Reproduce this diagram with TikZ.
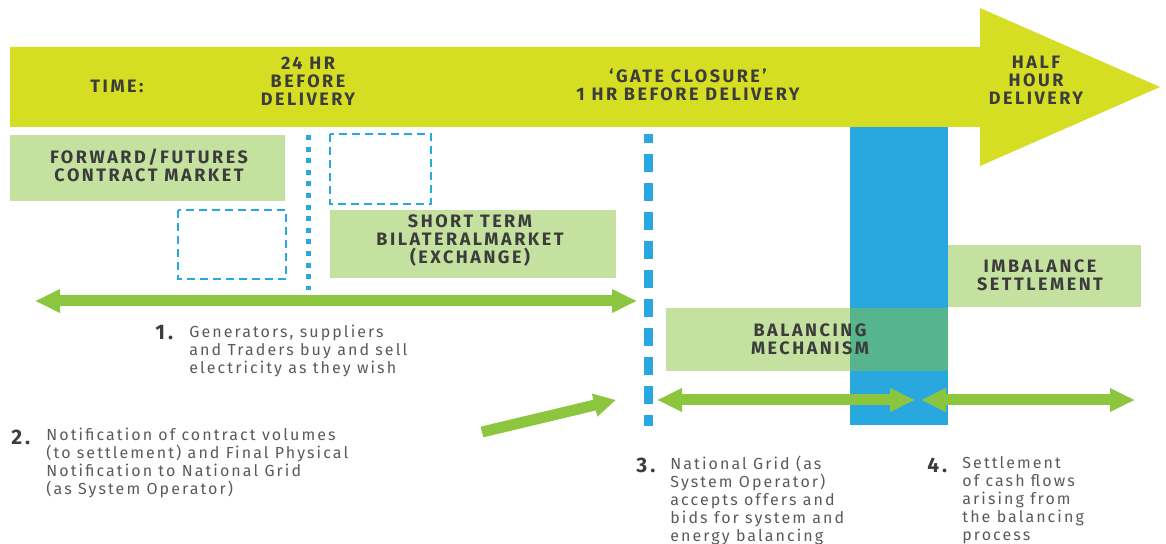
\documentclass[tikz,border=0pt]{standalone}
\usepackage{fontspec}
\setmainfont{Fira Sans}
\newfontfamily\capsfont[LetterSpace=14]{Fira Sans}
\newfontfamily\bodyfont[LetterSpace=13]{Fira Sans}
\usetikzlibrary{arrows.meta}
\definecolor{timeyellow}{RGB}{213,222,34}
\definecolor{boxgreen}{RGB}{197,225,160}
\definecolor{spangreen}{RGB}{140,198,63}
\definecolor{barblue}{RGB}{41,168,224}
\definecolor{mixteal}{RGB}{87,181,141}
\definecolor{textdark}{RGB}{60,60,60}
\definecolor{textgray}{RGB}{90,90,90}
\tikzset{
	caps/.style={font=\capsfont\bfseries\fontsize{9}{9}\selectfont, text=textdark, align=center, inner sep=0pt},
	body/.style={font=\bodyfont\fontsize{8}{9}\selectfont, text=textgray, align=left, anchor=west, inner sep=0pt},
	num/.style={font=\capsfont\bfseries\fontsize{10.5}{10}\selectfont, text=textdark, anchor=west, inner sep=0pt},
	span/.style={line width=5.5pt, draw=spangreen, {Triangle[width=11pt,length=12.5pt]}-{Triangle[width=11pt,length=12.5pt]}},
	push/.style={line width=5.5pt, draw=spangreen, -{Triangle[width=11pt,length=11pt]}},
	dashbox/.style={draw=barblue, line width=1.3pt, dash pattern=on 4pt off 2.5pt}
}
\begin{document}
\begin{tikzpicture}[x=0.5pt,y=-0.5pt]
		%%%%% START %%%%%
		\useasboundingbox (0,0) rectangle (1166,544);
		
		\fill[timeyellow] (10,47) -- (980,47) -- (980,8) -- (1160,87) -- (980,166) -- (980,127) -- (10,127) -- cycle;
		\node[caps] (time) at (117,86) {TIME:};
		\node[caps] (dayahead) at (308,81) {24 HR\\BEFORE\\DELIVERY};
		\node[caps] (gate) at (688,85) {‘GATE CLOSURE’\\1 HR BEFORE DELIVERY};
		\node[caps] (halfhour) at (1036,80) {HALF\\HOUR\\DELIVERY};
		
		\fill[boxgreen] (10,135) rectangle (285,201);
		\node[caps] (fwd) at (149,165) {FORWARD/FUTURES\\CONTRACT MARKET};
		
		\draw[dashbox] (178,210) rectangle (286,279);
		\draw[dashbox] (330,134) rectangle (431,204);
		\draw[barblue, line width=2.5pt, dash pattern=on 2.5pt off 3.3pt] (308,135) -- (308,290);
		
		\fill[boxgreen] (330,210) rectangle (616,278);
		\node[caps] (shortterm) at (470,241) {SHORT TERM\\BILATERALMARKET\\(EXCHANGE)};
		
		\draw[barblue, line width=4.5pt, dash pattern=on 9pt off 5.5pt, dash phase=4.5pt] (648,134) -- (648,426);
		
		\fill[barblue] (850,127) rectangle (948,425);
		\fill[boxgreen] (948,245) rectangle (1141,307);
		\node[caps] (imbal) at (1040,275) {IMBALANCE\\SETTLEMENT};
		\fill[boxgreen] (666,308) rectangle (850,371);
		\fill[mixteal] (850,308) rectangle (948,371);
		\node[caps] (balmech) at (810,339) {BALANCING\\MECHANISM};
		
		\coordinate (s1a) at (35,301);
		\coordinate (s1b) at (637,301);
		\coordinate (s2a) at (657,400);
		\coordinate (s2b) at (915,400);
		\coordinate (s3a) at (921,400);
		\coordinate (s3b) at (1135,400);
		\coordinate (fpna) at (482,432);
		\coordinate (fpnb) at (616,400);
		\draw[span] (s1a) -- (s1b);
		\draw[span] (s2a) -- (s2b);
		\draw[span] (s3a) -- (s3b);
		\draw[push] (fpna) -- (fpnb);
		
		\node[num] (num1) at (155,333) {1.};
		\node[body] (note1) at (189,351) {Generators, suppliers\\and Traders buy and sell\\electricity as they wish};
		\node[num] (num2) at (11,437) {2.};
		\node[body] (note2) at (46,463) {Notification of contract volumes\\(to settlement) and Final Physical\\Notification to National Grid\\(as System Operator)};
		\node[num] (num3) at (636,465) {3.};
		\node[body] (note3) at (670,500) {National Grid (as\\System Operator)\\accepts offers and\\bids for system and\\energy balancing};
		\node[num] (num4) at (927,465) {4.};
		\node[body] (note4) at (962,500) {Settlement\\of cash flows\\arising from\\the balancing\\process};
		
		%%%%% END %%%%%
	\end{tikzpicture}
\end{document}
